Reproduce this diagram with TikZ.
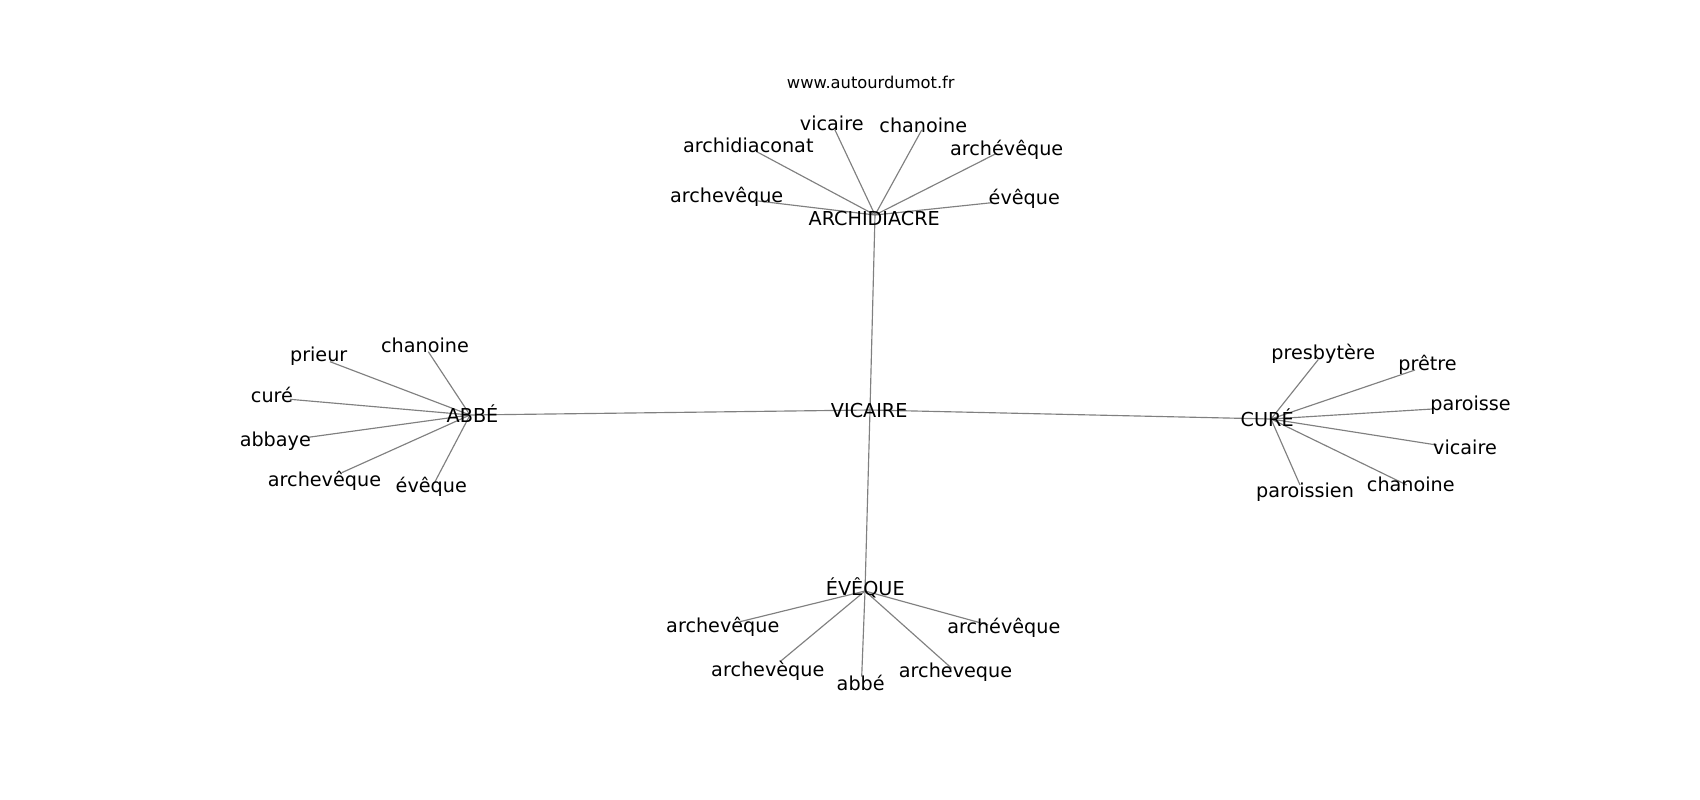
\documentclass[tikz,border=0pt]{standalone}
\usepackage{fontspec}
\setmainfont{DejaVu Sans}
\begin{document}
\begin{tikzpicture}[x=1pt,y=-1pt,
  lbl/.style={anchor=base, inner sep=0pt, font=\fontsize{19.2}{22}\selectfont},
  ttl/.style={anchor=base, inner sep=0pt, font=\fontsize{16.3}{19}\selectfont},
  link/.style={draw=black!50, line width=1.15pt}]
\fill[white] (0,0) rectangle (1700,800);
\useasboundingbox (0,0) rectangle (1700,800);

% hub points
\coordinate (hV) at (870,410);
\coordinate (hA) at (875,215);
\coordinate (hB) at (470,415);
\coordinate (hC) at (1271,419);
\coordinate (hE) at (865,591);

% leaf points (ARCHIDIACRE)
\coordinate (pA1) at (835,130);
\coordinate (pA2) at (921.7,130);
\coordinate (pA3) at (756.7,151.7);
\coordinate (pA4) at (996.7,153.3);
\coordinate (pA5) at (758,201);
\coordinate (pA6) at (991.7,202.7);
% leaf points (ABBE)
\coordinate (pB1) at (428.3,351.7);
\coordinate (pB2) at (330,361.7);
\coordinate (pB3) at (290,399.3);
\coordinate (pB4) at (308.3,437.3);
\coordinate (pB5) at (341.7,472.7);
\coordinate (pB6) at (435,481.7);
% leaf points (CURE)
\coordinate (pC1) at (1318.3,359.5);
\coordinate (pC2) at (1415,370);
\coordinate (pC3) at (1432.5,409);
\coordinate (pC4) at (1436.7,445);
\coordinate (pC5) at (1406.7,485);
\coordinate (pC6) at (1300,485);
% leaf points (EVEQUE)
\coordinate (pE1) at (740,621.7);
\coordinate (pE2) at (780,661.7);
\coordinate (pE3) at (861.7,676.7);
\coordinate (pE4) at (951.7,668.3);
\coordinate (pE5) at (988.3,625);

% connectors
\draw[link] (hV) -- (hA);
\draw[link] (hV) -- (hB);
\draw[link] (hV) -- (hC);
\draw[link] (hV) -- (hE);
\foreach \p in {pA1,pA2,pA3,pA4,pA5,pA6} \draw[link] (hA) -- (\p);
\foreach \p in {pB1,pB2,pB3,pB4,pB5,pB6} \draw[link] (hB) -- (\p);
\foreach \p in {pC1,pC2,pC3,pC4,pC5,pC6} \draw[link] (hC) -- (\p);
\foreach \p in {pE1,pE2,pE3,pE4,pE5} \draw[link] (hE) -- (\p);

% title
\node[ttl] (title) at (870.8,88.3) {www.autourdumot.fr};

% hub labels
\node[lbl] (vicaire) at (869.2,417.5) {VICAIRE};
\node[lbl] (archidiacre) at (874.2,225.5) {ARCHIDIACRE};
\node[lbl] (abbe) at (472.5,422.2) {ABBÉ};
\node[lbl] (cure) at (1267.2,426.7) {CURÉ};
\node[lbl] (eveque) at (865.3,595.5) {ÉVÊQUE};

% ARCHIDIACRE leaves
\node[lbl] (a1) at (831.7,130.7) {vicaire};
\node[lbl] (a2) at (923.3,132.3) {chanoine};
\node[lbl] (a3) at (748.3,152.3) {archidiaconat};
\node[lbl] (a4) at (1006.7,155.7) {archévêque};
\node[lbl] (a5) at (726.7,202.7) {archevêque};
\node[lbl] (a6) at (1024.3,204) {évêque};

% ABBE leaves
\node[lbl] (b1) at (425,352.7) {chanoine};
\node[lbl] (b2) at (318.7,361.7) {prieur};
\node[lbl] (b3) at (272,402.2) {curé};
\node[lbl] (b4) at (275.3,446.7) {abbaye};
\node[lbl] (b5) at (324.5,486) {archevêque};
\node[lbl] (b6) at (431.3,492.7) {évêque};

% CURE leaves
\node[lbl] (c1) at (1323.3,359.3) {presbytère};
\node[lbl] (c2) at (1427.5,370.7) {prêtre};
\node[lbl] (c3) at (1470.5,410.7) {paroisse};
\node[lbl] (c4) at (1465,454) {vicaire};
\node[lbl] (c5) at (1410.8,491.7) {chanoine};
\node[lbl] (c6) at (1305,497.3) {paroissien};

% EVEQUE leaves
\node[lbl] (e1) at (722.8,632.3) {archevêque};
\node[lbl] (e2) at (767.8,676.7) {archevèque};
\node[lbl] (e3) at (860.7,690) {abbé};
\node[lbl] (e4) at (955.5,677.3) {archeveque};
\node[lbl] (e5) at (1003.8,633.3) {archévêque};
\end{tikzpicture}
\end{document}
